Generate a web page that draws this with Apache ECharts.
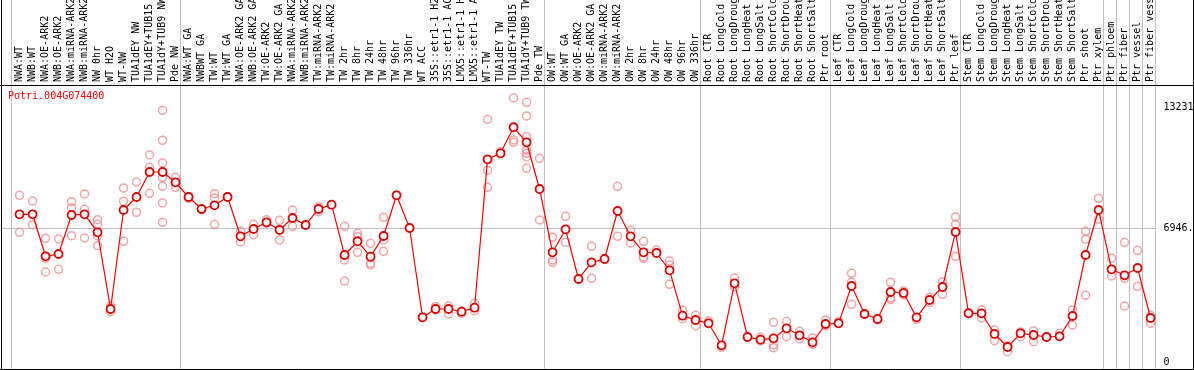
<!DOCTYPE html>
<html><head><meta charset="utf-8">
<script src="https://cdn.jsdelivr.net/npm/echarts@6/dist/echarts.min.js"></script>
<style>html,body{margin:0;padding:0;background:#fff}#c{width:1194px;height:370px}</style>
</head><body><div id="c"></div>
<script>
const geneTitle = 'Potri.004G074400';
const categories = [
  'NWA:WT','NWB:WT','NWA:OE-ARK2','NWB:OE-ARK2','NWA:miRNA-ARK2','NWB:miRNA-ARK2','NW 0hr','WT H2O','WT-NW','TUA1dEY NW','TUA1dEY+TUB15','TUA1dY+TUB9 NW','Pde NW',
  'NWA:WT GA','NWBWT GA','TW:WT','TW:WT GA','NWA:OE-ARK2 GA','NWB:OE-ARK2 GA','TW:OE-ARK2','TW:OE-ARK2 GA','NWA:miRNA-ARK2','NWB:miRNA-ARK2','TW:miRNA-ARK2','TW:miRNA-ARK2','TW 2hr','TW 8hr','TW 24hr','TW 48hr','TW 96hr','TW 336hr','WT ACC','35S::etr1-1 H2O','35S::etr1-1 ACC','LMX5::etr1-1 H2O','LMX5::etr1-1 ACC','WT-TW','TUA1dEY TW','TUA1dEY+TUB15','TUA1dY+TUB9 TW','Pde TW',
  'OW:WT','OW:WT GA','OW:OE-ARK2','OW:OE-ARK2 GA','OW:miRNA-ARK2','OW:miRNA-ARK2','OW 2hr','OW 8hr','OW 24hr','OW 48hr','OW 96hr','OW 336hr',
  'Root CTR','Root LongCold','Root LongDrought','Root LongHeat','Root LongSalt','Root ShortCold','Root ShortDrought','Root ShortHeat','Root ShortSalt','Ptr root',
  'Leaf CTR','Leaf LongCold','Leaf LongDrought','Leaf LongHeat','Leaf LongSalt','Leaf ShortCold','Leaf ShortDrought','Leaf ShortHeat','Leaf ShortSalt','Ptr leaf',
  'Stem CTR','Stem LongCold','Stem LongDrought','Stem LongHeat','Stem LongSalt','Stem ShortCold','Stem ShortDrought','Stem ShortHeat','Stem ShortSalt','Ptr shoot','Ptr xylem',
  'Ptr phloem','Ptr fiber','Ptr vessel','Ptr fiber vessel'
];
const groupSizes = [13, 28, 12, 10, 10, 11, 1, 1, 1, 1];
const meanValues = [
  7664,7664,5485,5604,7628,7664,6730,2750,7887,8562,9859,9859,9325,
  8562,7939,8131,8562,6523,6901,7249,6849,7472,7109,7939,8162,5552,6263,5464,6538,8650,6953,2319,2750,2750,2610,2818,10518,10829,12179,11400,8977,
  5692,6886,4307,5173,5345,7835,6523,5692,5656,4758,2403,2179,
  2008,867,4084,1297,1157,1230,1749,1385,1022,1972,
  2008,3944,2491,2231,3632,3580,2319,3217,3892,6746,
  2527,2527,1453,778,1489,1401,1297,1334,2387,5552,7887,
  4810,4499,4878,2283
];
const replicates = [
  [8650,6730],[8354,7125],[6419,5381,4670],[6382,4810],[8318,7991,6554],[8718,7924,6434],[7384,7145,6554,6035],[2906,2610],[9029,8339,6263],[9340,7768],[10741,10103,8754],[13061,11504,10326,9584,9117,8251,7249],[9584,9065],
  [8578,8494],[7903],[8733,8510,7145],[8562],[6782,6227],[7145,6606],[7384,7197],[7353,6331],[7887,7042],[7109],[8058,7799],[8162],[7042,5293,4203],[6678,6502,5692],[6159,5122,5033],[7508,6331,5744],[8650],[6953],[2319],[2870,2698],[2906,2491],[2646,2527],[3046,2662],[12594,9947,9065],[10913,10829],[13699,11520,11400],[13476,12765,11691,11001,10829,10653,10051],[10570,7368],
  [6471,5293,5173],[7560,6211],[4307],[6004,4343],[5345],[9117,6523],[6849,6175],[6263,5464,5381],[5812],[5241,5033,4032],[2698,2247],[2423,1884],
  [2127],[763],[4359,3907],[1297],[1282,1105],[2060,882,742],[2112,1313],[1593,1209],[1245,918],[2179,1868],
  [2091],[4603,4136,2994],[2491],[2179],[4136,3337,3254],[3684,3477],[2216],[3357,3077],[4167,3513],[7524,7145,5485],
  [2558],[2698,2283],[1660,1105],[534,846],[1557,1313],[1609,1053],[1297],[1489],[2698,1920],[6782,6367,3461],[8494,7405],
  [5381,4463],[6211,4343,2906],[5796,3928],[2008,2423]
];
const yTickValues = [0, 6946, 13231];
const yTickLabels = ['0', '6946.', '13231'];
const gridLineValue = 6946;

// derived structures
const catIdx = categories.map((_, i) => i);
const boundaries = [-0.66];
let acc = 0;
groupSizes.forEach(s => { acc += s; boundaries.push(acc - 1 + 0.37); });
const lineData = meanValues.map((v, i) => [i, v]);
const repData = [];
replicates.forEach((arr, i) => arr.forEach(v => repData.push([i, v])));

const FONT = 'DejaVu Sans Mono';
const XMIN = -1.35, XMAX = 87.45;
const chart = echarts.init(document.getElementById('c'), null, {renderer: 'canvas'});
chart.setOption({
  animation: false,
  backgroundColor: '#fff',
  title: {text: geneTitle, left: 8, top: 91, padding: 0,
    textStyle: {fontFamily: FONT, fontSize: 10, fontWeight: 'normal', color: '#ff0000'}},
  grid: [
    {left: 2, top: 85, width: 1154.4, bottom: 1, containLabel: false, outerBoundsMode: 'none'},
    {left: 2, top: 0, width: 1154.4, bottom: 1, containLabel: false, outerBoundsMode: 'none'}
  ],
  xAxis: [
    {type: 'value', gridIndex: 0, position: 'top', min: XMIN, max: XMAX,
      axisLine: {show: false}, axisTick: {show: false}, splitLine: {show: false},
      axisLabel: {customValues: catIdx, formatter: v => categories[Math.round(v)] || '', rotate: 90, margin: 3,
        fontFamily: FONT, fontSize: 10, color: '#000'}},
    {type: 'value', gridIndex: 1, min: XMIN, max: XMAX, show: false}
  ],
  yAxis: [
    {type: 'value', gridIndex: 0, position: 'right', min: -363, max: 14372,
      axisLine: {show: false}, axisTick: {show: false}, splitLine: {show: false},
      axisLabel: {customValues: yTickValues, formatter: v => yTickLabels[yTickValues.indexOf(v)], margin: 7,
        fontFamily: FONT, fontSize: 10, color: '#000'}},
    {type: 'value', gridIndex: 1, min: 0, max: 1, show: false}
  ],
  graphic: [
    {type: 'line', shape: {x1: 1.5, y1: 0, x2: 1.5, y2: 370}, style: {stroke: '#000', lineWidth: 1}, z: 100},
    {type: 'line', shape: {x1: 1193.5, y1: 0, x2: 1193.5, y2: 370}, style: {stroke: '#000', lineWidth: 1}, z: 100},
    {type: 'line', shape: {x1: 0, y1: 369.5, x2: 1194, y2: 369.5}, style: {stroke: '#000', lineWidth: 1}, z: 100},
    {type: 'line', shape: {x1: 0, y1: 85.5, x2: 1194, y2: 85.5}, style: {stroke: '#000', lineWidth: 1}, z: 100}
  ],
  series: [
    {type: 'custom', xAxisIndex: 1, yAxisIndex: 1, silent: true, z: 0,
      data: boundaries.map(b => [b]),
      renderItem: (params, api) => {
        const p1 = api.coord([api.value(0), 0]);
        const p2 = api.coord([api.value(0), 1]);
        const x = Math.round(p1[0]) + 0.5;
        return {type: 'line', shape: {x1: x, y1: p1[1], x2: x, y2: p2[1]}, style: {stroke: '#c0c0c0', lineWidth: 1}};
      }},
    {type: 'custom', xAxisIndex: 0, yAxisIndex: 0, silent: true, z: 0,
      data: [[gridLineValue]],
      renderItem: (params, api) => {
        const cs = params.coordSys;
        const p = api.coord([XMIN, api.value(0)]);
        const y = Math.round(p[1]) + 0.5;
        return {type: 'line', shape: {x1: cs.x, y1: y, x2: cs.x + cs.width, y2: y}, style: {stroke: '#c0c0c0', lineWidth: 1}};
      }},
    {type: 'scatter', xAxisIndex: 0, yAxisIndex: 0, data: repData, symbol: 'circle', symbolSize: 8, z: 2,
      itemStyle: {color: 'rgba(0,0,0,0)', borderColor: '#ef8f8f', borderWidth: 1.5}},
    {type: 'line', xAxisIndex: 0, yAxisIndex: 0, data: lineData, symbol: 'circle', symbolSize: 8, z: 3,
      lineStyle: {color: '#ff0000', width: 1.2},
      itemStyle: {color: '#ffffff', borderColor: '#e00000', borderWidth: 1.8}}
  ]
});
</script>
</body></html>
